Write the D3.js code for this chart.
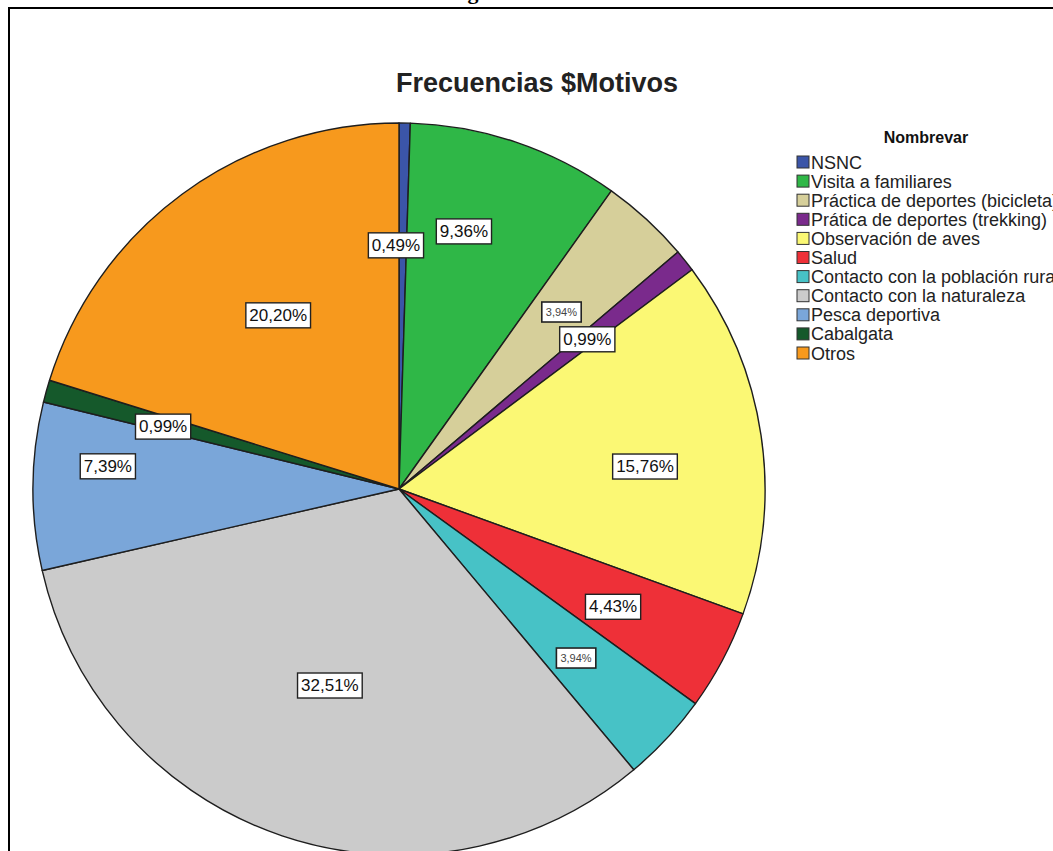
<!DOCTYPE html>
<html>
<head>
<meta charset="utf-8">
<script src="https://cdn.jsdelivr.net/npm/d3@7"></script>
<style>
  html, body { margin: 0; padding: 0; background: #fff; }
  svg { display: block; }
</style>
</head>
<body>
<svg id="chart" width="1053" height="851"></svg>
<script>
// ---- data ----
const categories = [
  "NSNC",
  "Visita a familiares",
  "Práctica de deportes (bicicleta)",
  "Prática de deportes (trekking)",
  "Observación de aves",
  "Salud",
  "Contacto con la población rural",
  "Contacto con la naturaleza",
  "Pesca deportiva",
  "Cabalgata",
  "Otros"
];
const counts = [1, 19, 8, 2, 32, 9, 8, 66, 15, 2, 41];
const colors = ["#3b55a8", "#2fb747", "#d6cf9a", "#7a2a8c", "#fbf874", "#ee3038",
                "#47c2c6", "#cbcbcb", "#7aa6d9", "#15592b", "#f7991d"];
const chartTitle = "Frecuencias $Motivos";
const legendTitle = "Nombrevar";
const pageCaption = "Figura 1. Motivaciones";

// label placement (fraction of radius, angular shift in degrees, small font flag)
const labelRadius = [0.667, 0.727, 0.656, 0.658, 0.675, 0.667, 0.669, 0.568, 0.798, 0.667, 0.579];
const labelShift  = [-1.6, -4.5, 0, 0, 3.1, 0.8, 0.7, 0.8, 4.1, -0.6, 1.6];
const labelSmall  = [false, false, true, false, false, false, true, false, false, false, false];

// ---- drawing ----
const svg = d3.select("#chart");
const cx = 399, cy = 489, R = 366;
const FONT = "Liberation Sans, Arial, sans-serif";

// page caption (clipped at top) and frame
svg.append("text")
  .attr("x", 448).attr("y", -1)
  .attr("font-family", "Liberation Serif, serif")
  .attr("font-weight", "bold")
  .attr("font-size", 22)
  .attr("fill", "#000")
  .text(pageCaption);

svg.append("rect")
  .attr("x", 9).attr("y", 8)
  .attr("width", 1200).attr("height", 1000)
  .attr("fill", "none")
  .attr("stroke", "#000")
  .attr("stroke-width", 2);

svg.append("text")
  .attr("x", 537).attr("y", 92)
  .attr("text-anchor", "middle")
  .attr("font-family", FONT)
  .attr("font-weight", "bold")
  .attr("font-size", 27)
  .attr("fill", "#222")
  .text(chartTitle);

const pie = d3.pie().sort(null).value(d => d.value);
const data = categories.map((c, i) => ({ name: c, value: counts[i], i }));
const total = d3.sum(counts);
const arcs = pie(data);
const arc = d3.arc().innerRadius(0).outerRadius(R);

const g = svg.append("g").attr("transform", `translate(${cx},${cy})`);

g.selectAll("path.slice")
  .data(arcs)
  .join("path")
  .attr("class", "slice")
  .attr("d", arc)
  .attr("fill", d => colors[d.data.i])
  .attr("stroke", "#1e1e1e")
  .attr("stroke-width", 1.4)
  .attr("stroke-linejoin", "round");

const fmt = v => d3.format(".2f")(v).replace(".", ",") + "%";

arcs.forEach(a => {
  const i = a.data.i;
  const mid = (a.startAngle + a.endAngle) / 2 + labelShift[i] * Math.PI / 180;
  const r = labelRadius[i] * R;
  const x = Math.sin(mid) * r;
  const y = -Math.cos(mid) * r;
  const small = labelSmall[i];
  const fs = small ? 11 : 17;
  const txt = fmt(counts[i] / total * 100);
  const lg = g.append("g").attr("transform", `translate(${x},${y})`);
  const t = lg.append("text")
    .attr("text-anchor", "middle")
    .attr("dy", "0.35em")
    .attr("font-family", FONT)
    .attr("font-size", fs)
    .attr("fill", small ? "#444" : "#111")
    .text(txt);
  const bb = t.node().getBBox();
  const px = small ? 4 : 3.5, py = small ? 4 : 3;
  lg.insert("rect", "text")
    .attr("x", bb.x - px).attr("y", bb.y - py)
    .attr("width", bb.width + 2 * px).attr("height", bb.height + 2 * py)
    .attr("fill", "#fff")
    .attr("stroke", "#222")
    .attr("stroke-width", small ? 1.6 : 1.4);
});

// legend
const lx = 797;
svg.append("text")
  .attr("x", 926).attr("y", 143)
  .attr("text-anchor", "middle")
  .attr("font-family", FONT)
  .attr("font-weight", "bold")
  .attr("font-size", 16)
  .attr("fill", "#111")
  .text(legendTitle);

const step = 19.1;
const leg = svg.append("g");
categories.forEach((c, i) => {
  const y = 162 + i * step;
  leg.append("rect")
    .attr("x", lx).attr("y", y - 6)
    .attr("width", 12).attr("height", 12)
    .attr("fill", colors[i])
    .attr("stroke", "#333")
    .attr("stroke-width", 1);
  leg.append("text")
    .attr("x", lx + 14).attr("y", y + 6.5)
    .attr("font-family", FONT)
    .attr("font-size", 18)
    .attr("fill", "#222")
    .text(c);
});
</script>
</body>
</html>
